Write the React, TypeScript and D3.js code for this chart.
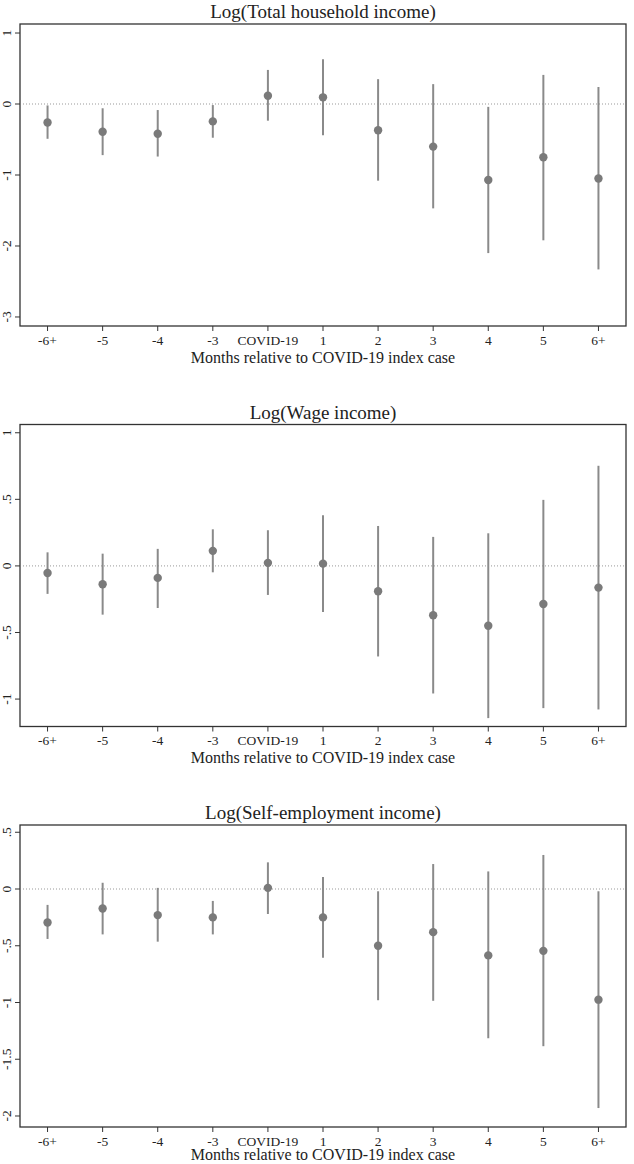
import * as d3 from "d3";

const months = ["-6+", "-5", "-4", "-3", "COVID-19", "1", "2", "3", "4", "5", "6+"];

const titles = [
  "Log(Total household income)",
  "Log(Wage income)",
  "Log(Self-employment income)",
];

// point estimates and 95% CI bounds
const totalEst = [-0.26, -0.39, -0.42, -0.245, 0.117, 0.094, -0.37, -0.6, -1.07, -0.75, -1.05];
const totalLo = [-0.49, -0.72, -0.74, -0.475, -0.235, -0.44, -1.08, -1.47, -2.1, -1.92, -2.33];
const totalHi = [-0.02, -0.06, -0.085, -0.015, 0.48, 0.63, 0.35, 0.28, -0.04, 0.41, 0.24];

const wageEst = [-0.053, -0.138, -0.09, 0.113, 0.023, 0.017, -0.19, -0.371, -0.449, -0.286, -0.163];
const wageLo = [-0.21, -0.366, -0.316, -0.048, -0.218, -0.346, -0.68, -0.958, -1.143, -1.068, -1.078];
const wageHi = [0.102, 0.092, 0.128, 0.275, 0.268, 0.38, 0.3, 0.218, 0.245, 0.496, 0.752];

const selfEst = [-0.295, -0.172, -0.23, -0.25, 0.01, -0.25, -0.5, -0.38, -0.585, -0.545, -0.975];
const selfLo = [-0.44, -0.4, -0.464, -0.4, -0.22, -0.605, -0.98, -0.985, -1.315, -1.385, -1.93];
const selfHi = [-0.14, 0.055, 0.01, -0.105, 0.235, 0.105, -0.02, 0.22, 0.155, 0.3, -0.02];

const totalTicks = [1, 0, -1, -2, -3];
const wageTicks = [1, 0.5, 0, -0.5, -1];
const selfTicks = [0.5, 0, -0.5, -1, -1.5, -2];

const xTitle = "Months relative to COVID-19 index case";

const panels = [
  { title: titles[0], est: totalEst, lo: totalLo, hi: totalHi, ticks: totalTicks, domain: [-3.127, 1.127] },
  { title: titles[1], est: wageEst, lo: wageLo, hi: wageHi, ticks: wageTicks, domain: [-1.206, 1.062] },
  { title: titles[2], est: selfEst, lo: selfLo, hi: selfHi, ticks: selfTicks, domain: [-2.097, 0.564] },
];

const width = 634,
  height = 1164,
  panelH = 400.5,
  marginTop = 24,
  plotH = 302,
  marginLeft = 20,
  marginRight = 8;

const font = "'Liberation Serif', 'Times New Roman', serif";

// stata style tick labels: .5, -.5, -1.5
const fmt = (v) => {
  if (v === 0) return "0";
  const s = String(v);
  return s.replace(/^0\./, ".").replace(/^-0\./, "-.");
};

function Panel({ p, oy }) {
  const x = d3
    .scalePoint()
    .domain(months)
    .range([marginLeft, width - marginRight])
    .padding(0.5);

  const top = oy + marginTop,
    bottom = top + plotH;

  const y = d3.scaleLinear().domain(p.domain).range([bottom, top]);
  const cx = (marginLeft + width - marginRight) / 2;

  return (
    <g>
      <text x={cx} y={oy + 18} textAnchor="middle" fontSize="19" fill="#222">
        {p.title}
      </text>

      {/* zero reference */}
      <line
        x1={marginLeft + 3}
        x2={width - marginRight}
        y1={y(0)}
        y2={y(0)}
        stroke="#999"
        strokeWidth="1"
        strokeDasharray="1 2"
      />

      {months.map((m, i) => (
        <g key={m}>
          <line
            x1={x(m)}
            x2={x(m)}
            y1={y(p.lo[i])}
            y2={y(p.hi[i])}
            stroke="#8a8a8a"
            strokeWidth="2"
          />
          <circle cx={x(m)} cy={y(p.est[i])} r="4.2" fill="#7a7a7a" />
        </g>
      ))}

      <rect
        x={marginLeft}
        y={top}
        width={width - marginRight - marginLeft}
        height={plotH}
        fill="none"
        stroke="#333"
        strokeWidth="1.3"
      />

      {p.ticks.map((t) => (
        <g key={t}>
          <line x1={marginLeft - 5} x2={marginLeft} y1={y(t)} y2={y(t)} stroke="#333" />
          <text
            transform={`translate(10.5,${y(t)}) rotate(-90)`}
            textAnchor="middle"
            fontSize="13.5"
            fill="#222"
          >
            {fmt(t)}
          </text>
        </g>
      ))}

      {months.map((m) => (
        <g key={"t" + m}>
          <line x1={x(m)} x2={x(m)} y1={bottom} y2={bottom + 5} stroke="#333" />
          <text x={x(m)} y={bottom + 18.5} textAnchor="middle" fontSize="13.5" fill="#222">
            {m}
          </text>
        </g>
      ))}

      <text
        x={cx}
        y={Math.min(bottom + 36.5, height - 3.6)}
        textAnchor="middle"
        fontSize="16"
        fill="#222"
      >
        {xTitle}
      </text>
    </g>
  );
}

export default function App() {
  return (
    <svg
      width={width}
      height={height}
      viewBox={`0 0 ${width} ${height}`}
      style={{ position: "absolute", left: 0, top: 0, background: "#fff", fontFamily: font }}
    >
      {panels.map((p, i) => (
        <Panel key={p.title} p={p} oy={i * panelH} />
      ))}
    </svg>
  );
}
